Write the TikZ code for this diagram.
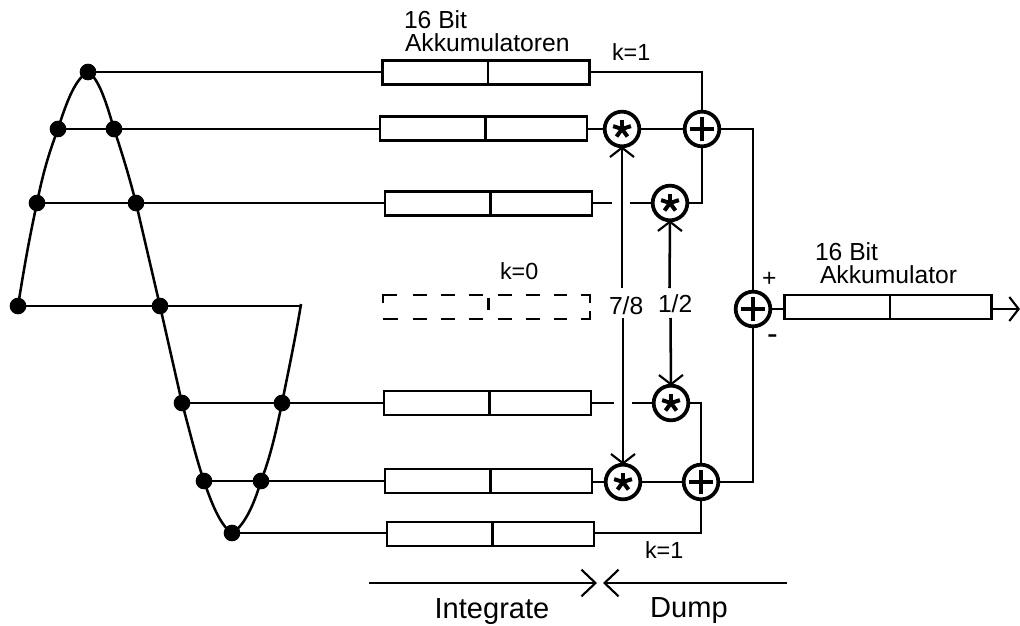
\documentclass[tikz,border=0pt]{standalone}
\usepackage{fontspec}
\setmainfont{Liberation Sans}
\usetikzlibrary{arrows.meta}
\tikzset{
  x=0.75pt,y=-0.75pt,
  wire/.style={line width=1.9pt,line cap=butt},
  thinw/.style={line width=1.6pt},
  accu/.style={draw,line width=1.9pt,minimum width=155pt,minimum height=18pt,inner sep=0pt,outer sep=0pt,
    path picture={\draw[solid,line width=1.9pt] ([xshift=1.5pt]path picture bounding box.north) -- ([xshift=1.5pt]path picture bounding box.south);}},
  ghost/.style={minimum width=155pt,minimum height=18pt,inner sep=0pt,outer sep=0pt},
  ghostline/.style={line width=1.9pt,dash pattern=on 10.5pt off 10.75pt},
  ghostcorner/.style={line width=1.9pt,line join=miter},
  dot/.style={circle,fill=black,inner sep=0pt,outer sep=0pt,minimum size=12.5pt},
  opc/.style={circle,draw,line width=2.8pt,fill=white,minimum size=26pt,inner sep=0pt,outer sep=0pt},
  plusop/.style={opc,path picture={
    \draw[line width=3pt] ([xshift=-9pt]path picture bounding box.center) -- ([xshift=9pt]path picture bounding box.center);
    \draw[line width=3pt] ([yshift=-9pt]path picture bounding box.center) -- ([yshift=9pt]path picture bounding box.center);}},
  starop/.style={opc,path picture={
    \foreach \a in {90,162,234,306,18}{\draw[line width=3pt] (path picture bounding box.center) -- ++(\a:7pt);}}},
  lbl/.style={inner sep=0pt,outer sep=0pt,anchor=base west,font=\fontsize{18.5}{20}\selectfont},
  smalltip/.style={-{Straight Barb[length=7pt,width=18pt,line width=1.6pt]}},
  bigtip/.style={-{Straight Barb[length=10.5pt,width=20pt,line width=1.6pt]}},
}
\begin{document}
\begin{tikzpicture}
\useasboundingbox (0,0) rectangle (1020,625);
% sample points
\node[dot] (p1) at (88,72) {};
\node[dot] (p2a) at (58,129) {};
\node[dot] (p2b) at (114,129) {};
\node[dot] (p3a) at (37,203) {};
\node[dot] (p3b) at (136,203) {};
\node[dot] (p4a) at (18,306) {};
\node[dot] (p4b) at (160,306) {};
\node[dot] (p5a) at (182,403) {};
\node[dot] (p5b) at (282,403) {};
\node[dot] (p6a) at (204,481) {};
\node[dot] (p6b) at (261,481) {};
\node[dot] (p7) at (232,533) {};
\coordinate (wend) at (301,304);
% waveform
\draw[wire] (p4a.center) .. controls (25,262) and (30,235) .. (p3a.center)
  .. controls (43,172) and (50,150) .. (p2a.center)
  .. controls (67,100) and (76,78) .. (p1.center)
  .. controls (99,78) and (107,105) .. (p2b.center)
  .. controls (121,150) and (128,172) .. (p3b.center)
  -- (p4b.center) -- (p5a.center)
  .. controls (190,432) and (196,458) .. (p6a.center)
  .. controls (213,508) and (222,527) .. (p7.center)
  .. controls (243,527) and (253,508) .. (p6b.center)
  .. controls (270,458) and (276,432) .. (p5b.center)
  .. controls (289,368) and (296,335) .. (wend);
% accumulators
\node[accu] (b1) at (486,72.5) {};
\node[accu] (b2) at (483.5,128.5) {};
\node[accu] (b3) at (488.5,203.5) {};
\node[ghost] (b4) at (486.5,307) {};
\node[accu] (b5) at (487.5,403) {};
\node[accu] (b6) at (488.5,481) {};
\node[accu] (b7) at (490.5,534) {};
\node[accu] (bo) at (888,307) {};
% dashed accumulator
\draw[ghostcorner] ([yshift=-6pt]b4.north west) -- (b4.north west) -- ([xshift=10.5pt]b4.north west);
\draw[ghostcorner] ([yshift=-6pt]b4.north east) -- (b4.north east) -- ([xshift=-7pt]b4.north east);
\draw[ghostcorner] (b4.south west) -- ([xshift=11pt]b4.south west);
\draw[ghostcorner] ([yshift=6pt]b4.south east) -- (b4.south east) -- ([xshift=-7pt]b4.south east);
\draw[ghostline] ([xshift=22pt]b4.north west) -- ([xshift=-17pt]b4.north east);
\draw[ghostline] ([xshift=22pt]b4.south west) -- ([xshift=-17pt]b4.south east);
\draw[ghostcorner] ([xshift=1.5pt,yshift=-2pt]b4.north) -- ([xshift=1.5pt,yshift=-11.5pt]b4.north);
% operators
\node[starop] (s1) at (622,129) {};
\node[plusop] (a1) at (702,129) {};
\node[starop] (s2) at (670,203) {};
\node[plusop] (a3) at (753,309) {};
\node[starop] (s3) at (671,403) {};
\node[starop] (s4) at (623,482) {};
\node[plusop] (a2) at (701,482) {};
% gap and label nodes
\coordinate (g3l) at (612,203);
\coordinate (g3r) at (630,203);
\coordinate (g5l) at (614,403);
\coordinate (g5r) at (632,403);
\node[lbl] (t78) at (609,314) {7/8};
\node[lbl] (t12) at (658,312) {1/2};
\coordinate (v78u) at (622,288);
\coordinate (v78d) at (623,318);
\coordinate (v12u) at (669.5,288);
\coordinate (v12d) at (670.5,318);
% input wires
\draw[wire] (p1) -- (b1.west |- p1);
\draw[wire] (p2a) -- (p2b) -- (b2.west |- p2b);
\draw[wire] (p3a) -- (p3b) -- (b3.west |- p3b);
\draw[wire] (p4a) -- (p4b) -- (wend |- p4b);
\draw[wire] (p5a) -- (p5b) -- (b5.west |- p5b);
\draw[wire] (p6a) -- (p6b) -- (b6.west |- p6b);
\draw[wire] (p7) -- (b7.west |- p7);
% combining wires
\draw[wire] (b1.east |- p1) -| (a1.north);
\draw[wire] (b2.east |- s1) -- (s1.west);
\draw[wire] (s1) -- (a1);
\draw[wire] (b3.east |- s2) -- (g3l);
\draw[wire] (g3r) -- (s2.west);
\draw[wire] (s2.east) -| (a1.south);
\draw[wire] (b5.east |- s3) -- (g5l);
\draw[wire] (g5r) -- (s3.west);
\draw[wire] (s3.east) -| (a2.north);
\draw[wire] (b6.east |- s4) -- (s4.west);
\draw[wire] (s4) -- (a2);
\draw[wire] (b7.east |- p7) -| (a2.south);
\draw[wire] (a1.east) -| (a3.north);
\draw[wire] (a2.east) -| (a3.south);
\draw[wire] (a3.east) -- (bo.west |- a3);
% coefficient arrows
\draw[wire,smalltip] (v78u) -- (s1.south);
\draw[wire,smalltip] (v78d) -- (s4.north);
\draw[wire,smalltip] (v12u) -- (s2.south);
\draw[wire,smalltip] (v12d) -- (s3.north);
% output
\coordinate (oend) at (1020,309);
\draw[wire,smalltip] (bo.east |- oend) -- (oend);
% phases
\coordinate (il) at (369,583);
\coordinate (ir) at (597,583);
\coordinate (dr) at (787,583);
\coordinate (dl) at (603,583);
\draw[thinw,bigtip] (il) -- (ir);
\draw[thinw,bigtip] (dr) -- (dl);
% labels
\node[lbl] (l16a) at (404,28) {16 Bit};
\node[lbl] (lak) at (405,51) {Akkumulatoren};
\node[lbl,font=\fontsize{17.5}{20}\selectfont] (k1a) at (612,60) {k=1};
\node[lbl,font=\fontsize{17.5}{20}\selectfont] (k0) at (500,279) {k=0};
\node[lbl,font=\fontsize{17.5}{20}\selectfont] (k1b) at (645,558) {k=1};
\node[lbl] (l16b) at (815,260) {16 Bit};
\node[lbl] (lao) at (820,283) {Akkumulator};
\node[lbl] (lp) at (762,286) {+};
\node[lbl,font=\fontsize{24}{26}\selectfont] (lm) at (767,344) {-};
\node[lbl,font=\fontsize{21.8}{24}\selectfont,anchor=base] (li) at (492,618) {Integrate};
\node[lbl,font=\fontsize{21.8}{24}\selectfont,anchor=base] (ld) at (689,617) {Dump};
\end{tikzpicture}
\end{document}
